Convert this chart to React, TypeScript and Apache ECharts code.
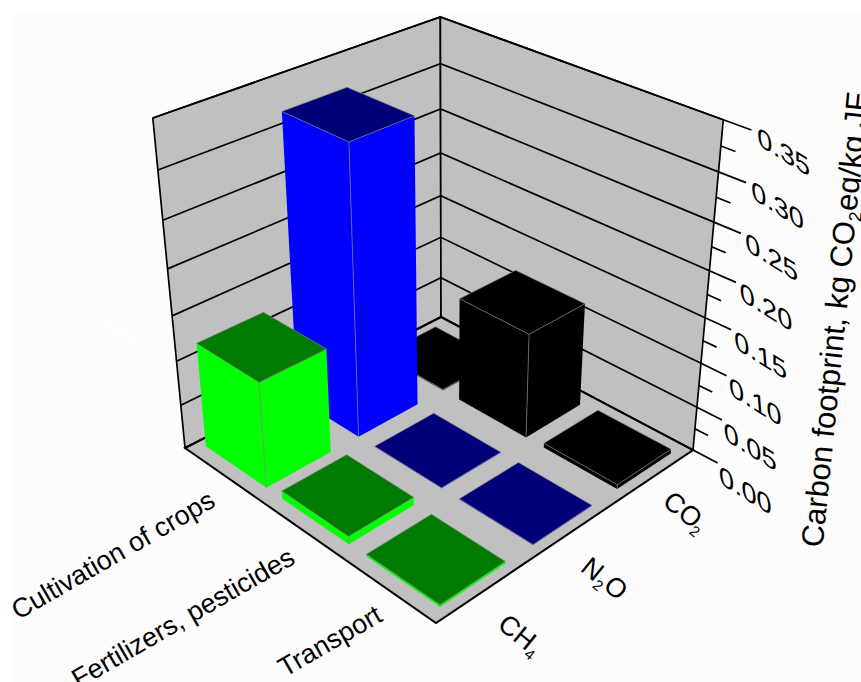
import React, { useEffect, useRef } from "react";
import * as echarts from "echarts";

const categories = ["Cultivation of crops", "Fertilizers, pesticides", "Transport"];
const co2Values = [0.001, 0.119, 0.005];
const n2oValues = [0.3185, 0.0006, 0.0006];
const ch4Values = [0.118, 0.009, 0.0025];
const majorTicks = [0, 0.05, 0.1, 0.15, 0.2, 0.25, 0.3, 0.35];
const minorTicks = [0.025, 0.075, 0.125, 0.175, 0.225, 0.275, 0.325];
const tickLabels = ["0.00", "0.05", "0.10", "0.15", "0.20", "0.25", "0.30", "0.35"];

const FONT = "Liberation Sans";
const WALL = "#c0c0c0";
const EDGE = "#808080";

// projective camera fitted to the plot box: u = category direction, v = gas direction, t = height
const B = [441, 317], R = [693, 450], F = [436, 623], L = [185, 448], VP = [447, 3133];
const sx = B[0] - R[0] + F[0] - L[0], sy = B[1] - R[1] + F[1] - L[1];
const dx1 = R[0] - F[0], dx2 = L[0] - F[0], dy1 = R[1] - F[1], dy2 = L[1] - F[1];
const den = dx1 * dy2 - dx2 * dy1;
const g = (sx * dy2 - dx2 * sy) / den;
const h = (dx1 * sy - sx * dy1) / den;
const c = -0.0963;
const proj = (u: number, v: number, t: number) => {
  const w = 1 + g * u + h * v + c * t;
  const X = B[0] + (R[0] - B[0] + g * R[0]) * u + (L[0] - B[0] + h * L[0]) * v + c * VP[0] * t;
  const Y = B[1] + (R[1] - B[1] + g * R[1]) * u + (L[1] - B[1] + h * L[1]) * v + c * VP[1] * t;
  return [X / w, Y / w];
};

const heightOf = (params: any, api: any, value: number) => {
  const cs = params.coordSys;
  return (cs.y + cs.height - api.coord([0, value])[1]) / cs.height;
};

const barRender = (gasIndex: number, side: string, top: string) => (params: any, api: any) => {
  const cs = params.coordSys;
  const uc = (api.coord([api.value(0), 0])[0] - cs.x) / cs.width;
  const vc = (gasIndex + 0.5) / 3 + 0.005;
  const t = heightOf(params, api, api.value(1));
  const hu = 0.133, hv = 0.115;
  const u0 = uc - hu, u1 = uc + hu, v0 = vc - hv, v1 = vc + hv;
  const style = (fill: string) => ({ fill, stroke: EDGE, lineWidth: 0.7 });
  return {
    type: "group",
    children: [
      { type: "polygon", shape: { points: [proj(u0, v1, 0), proj(u1, v1, 0), proj(u1, v1, t), proj(u0, v1, t)] }, style: { fill: side } },
      { type: "polygon", shape: { points: [proj(u1, v1, 0), proj(u1, v0, 0), proj(u1, v0, t), proj(u1, v1, t)] }, style: { fill: side } },
      { type: "polyline", shape: { points: [proj(u1, v1, 0), proj(u1, v1, t)] }, style: { fill: "none", stroke: EDGE, lineWidth: 0.7 } },
      { type: "polygon", shape: { points: [proj(u0, v0, t), proj(u1, v0, t), proj(u1, v1, t), proj(u0, v1, t)] }, style: style(top) },
    ],
  };
};

const wallRender = (params: any, api: any) => {
  const t = heightOf(params, api, api.value(1));
  const style = { fill: WALL, stroke: "#000", lineWidth: 1.7 };
  return {
    type: "group",
    children: [
      { type: "polygon", shape: { points: [proj(0, 1, 0), proj(0, 0, 0), proj(0, 0, t), proj(0, 1, t)] }, style },
      { type: "polygon", shape: { points: [proj(0, 0, 0), proj(1, 0, 0), proj(1, 0, t), proj(0, 0, t)] }, style },
      { type: "polygon", shape: { points: [proj(0, 1, 0), proj(1, 1, 0), proj(1, 0, 0), proj(0, 0, 0)] }, style: { ...style, lineWidth: 2 } },
    ],
  };
};

const majorRender = (params: any, api: any) => {
  const t = heightOf(params, api, api.value(1));
  const pos = proj(1.21, 0.04, t);
  return {
    type: "group",
    children: [
      {
        type: "polyline",
        shape: { points: [proj(0, 1, t), proj(0, 0, t), proj(1, 0, t), proj(1.085, 0, t)] },
        style: { fill: "none", stroke: "#000", lineWidth: 1.7 },
      },
      {
        type: "text",
        x: pos[0] - 1,
        y: pos[1] + 1,
        skewY: -Math.atan(0.62),
        skewX: 0.08,
        style: {
          text: tickLabels[params.dataIndex],
          font: `27px "${FONT}"`,
          fill: "#000",
          align: "center",
          verticalAlign: "middle",
        },
      },
    ],
  };
};

const minorRender = (params: any, api: any) => {
  const t = heightOf(params, api, api.value(1));
  return {
    type: "polyline",
    shape: { points: [proj(1, 0, t), proj(1.045, 0, t)] },
    style: { fill: "none", stroke: "#000", lineWidth: 1.7 },
  };
};

const label = (x: number, y: number, rotation: number, text: string, size = 27) => ({
  type: "text",
  x,
  y,
  rotation,
  z: 50,
  style: { text, font: `${size}px "${FONT}"`, fill: "#000", align: "center", verticalAlign: "middle" },
});

const subLabel = (x: number, y: number, rotation: number, pieces: [string, number, number, number][]) => ({
  type: "group",
  x,
  y,
  rotation,
  z: 50,
  children: pieces.map(([text, px, py, size]) => ({
    type: "text",
    x: px,
    y: py,
    z: 50,
    style: { text, font: `${size}px "${FONT}"`, fill: "#000", align: "left", verticalAlign: "middle" },
  })),
});

const custom = (name: string, data: any[], renderItem: any, z: number) => ({
  type: "custom",
  name,
  data,
  renderItem,
  clip: false,
  silent: true,
  z,
  encode: { x: 0, y: 1 },
});

const gasData = (values: number[]) => values.map((v, i) => [i, v]);

export default function App() {
  const ref = useRef<HTMLDivElement>(null);
  useEffect(() => {
    const chart = echarts.init(ref.current!, undefined, { renderer: "svg" });
    chart.setOption({
      animation: false,
      backgroundColor: "#ffffff",
      grid: { left: 0, right: 0, top: 0, bottom: 0 },
      xAxis: { type: "category", data: categories, show: false },
      yAxis: { type: "value", min: 0, max: 0.35, interval: 0.05, show: false },
      series: [
        custom("walls", [[0, 0.35]], wallRender, 2),
        custom("major ticks", majorTicks.map((v) => [0, v]), majorRender, 3),
        custom("minor ticks", minorTicks.map((v) => [0, v]), minorRender, 3),
        custom("CO2", gasData(co2Values), barRender(0, "#000000", "#000000"), 4),
        custom("N2O", gasData(n2oValues), barRender(1, "#0000ff", "#00007b"), 5),
        custom("CH4", gasData(ch4Values), barRender(2, "#00ff00", "#007b00"), 6),
      ],
      graphic: [
        { type: "rect", z: -10, shape: { x: 12, y: 14, width: 849, height: 668 }, style: { fill: "#fcfcfc" } },
        { type: "line", z: 50, shape: { x1: 108, y1: 326, x2: 134, y2: 338 }, style: { stroke: "#ffffff", lineWidth: 1.5 } },
        label(113, 555, Math.PI / 6, categories[0]),
        label(183, 618, Math.PI / 6, categories[1]),
        label(330, 641, Math.PI / 6, categories[2]),
        subLabel(667, 497, -0.68, [["CO", 0, 0, 27], ["2", 39, 9, 15]]),
        subLabel(585, 563, -0.68, [["N", 0, 0, 27], ["2", 20, 9, 15], ["O", 29, 0, 27]]),
        subLabel(502, 620, -0.68, [["CH", 0, 0, 27], ["4", 39, 9, 15]]),
        subLabel(812, 547, 1.47, [
          ["Carbon footprint, kg CO", 0, 0, 31],
          ["2", 328, 10, 18],
          ["eq/kg JF", 338, 0, 31],
        ]),
      ],
    });
    return () => chart.dispose();
  }, []);
  return <div ref={ref} style={{ position: "fixed", left: 0, top: 0, width: 861, height: 682 }} />;
}
